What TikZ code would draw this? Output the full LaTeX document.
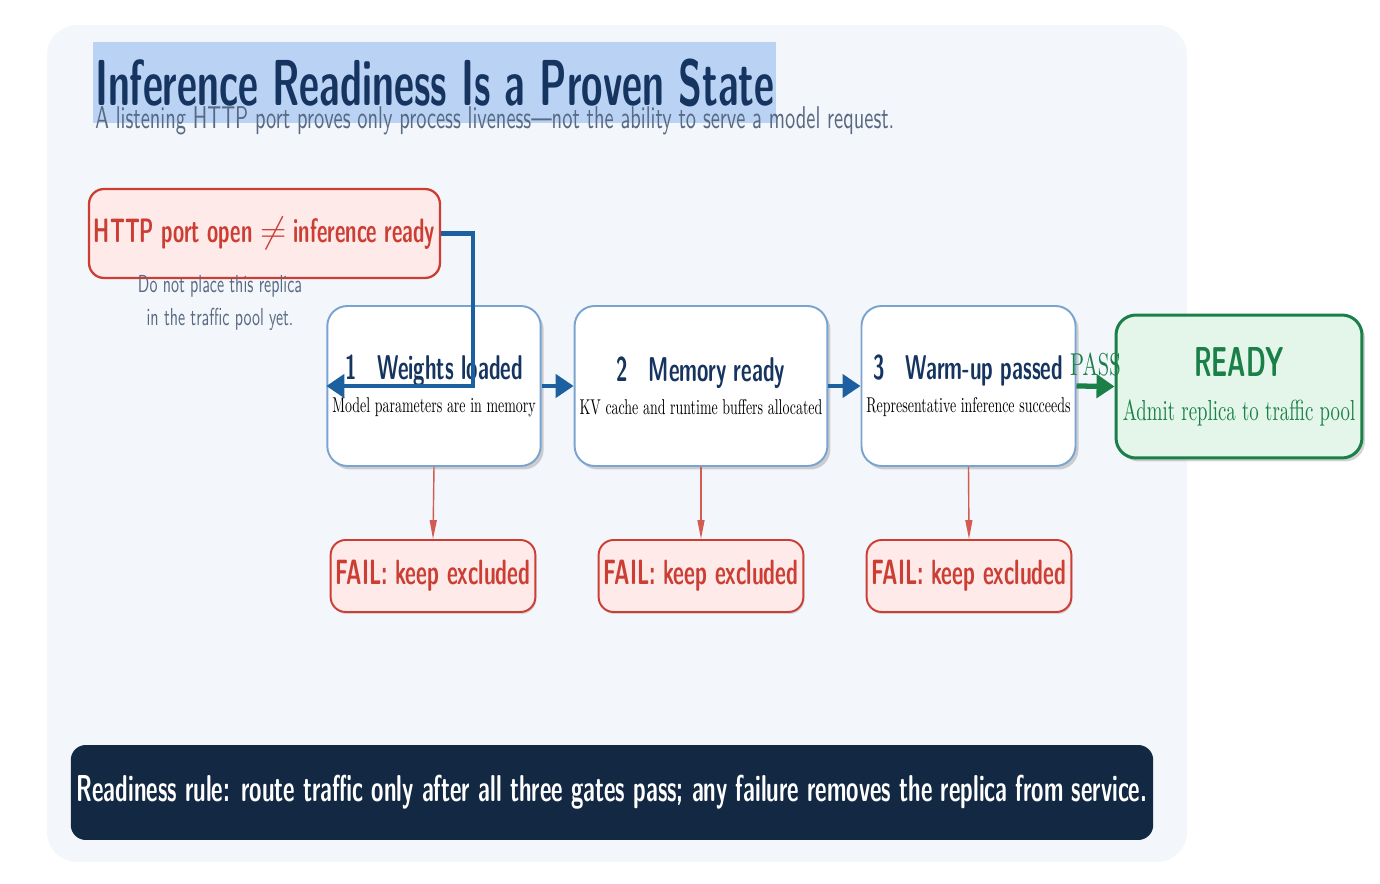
\documentclass[tikz,border=0pt]{standalone}
\usepackage{fontspec}
\setmainfont{lmroman10-regular}[Extension=.otf,BoldFont=lmroman10-bold,FakeStretch=0.65]
\setsansfont{lmsans10-regular}[Extension=.otf,BoldFont=lmsans10-bold,
  UprightFeatures={FakeStretch=0.65},BoldFeatures={FakeStretch=0.6}]
\usetikzlibrary{arrows.meta,shadows,positioning}

\definecolor{panelbg}{RGB}{243,246,251}
\definecolor{titlehl}{RGB}{186,211,245}
\definecolor{navy}{RGB}{22,52,96}
\definecolor{subgray}{RGB}{88,106,130}
\definecolor{failred}{RGB}{204,62,52}
\definecolor{failfill}{RGB}{253,234,233}
\definecolor{gateline}{RGB}{122,164,208}
\definecolor{flowblue}{RGB}{28,96,160}
\definecolor{passgreen}{RGB}{26,128,72}
\definecolor{passfill}{RGB}{228,246,234}
\definecolor{footbg}{RGB}{19,41,67}

\newcommand{\gatetitle}[2]{{\sffamily\bfseries\fontsize{19.6}{22}\selectfont\color{navy}#1\hspace{0.6em}#2}}

\tikzset{
  gate/.style={draw=gateline, line width=1.1pt, fill=white, rounded corners=0.4cm,
    minimum height=3.2cm, inner xsep=0.1cm, align=center,
    font=\rmfamily\fontsize{12.2}{16}\selectfont,
    drop shadow={shadow xshift=0.06cm, shadow yshift=-0.07cm, opacity=0.35}},
  failbox/.style={draw=failred, line width=1.1pt, fill=failfill, rounded corners=0.3cm,
    minimum height=1.44cm, inner xsep=0.1cm, text=failred,
    font=\sffamily\bfseries\fontsize{20}{22}\selectfont,
    drop shadow={shadow xshift=0.02cm, shadow yshift=-0.04cm, opacity=0.3}},
  flow/.style={draw=flowblue, line width=2.5pt, -{Triangle[length=0.36cm,width=0.46cm]}},
  failflow/.style={draw=failred!85!white, line width=0.8pt, -{Triangle[length=0.38cm,width=0.14cm]}},
}

\begin{document}
\begin{tikzpicture}[x=0.02cm, y=-0.02cm]
  \useasboundingbox (0,0) rectangle (1380,884);
  % panel
  \fill[panelbg, rounded corners=0.6cm] (47,25) rectangle (1187,862);

  % title and subtitle
  \node[anchor=west, fill=titlehl, inner xsep=1pt, inner ysep=0pt, minimum height=1.62cm,
    text=navy, font=\sffamily\bfseries\fontsize{37}{40}\selectfont] (title) at (93,82.5)
    {Inference Readiness Is a Proven State};
  \node[anchor=base west, inner sep=0pt, text=subgray, font=\sffamily\fontsize{17.9}{19}\selectfont]
    (subtitle) at (95,129)
    {A listening HTTP port proves only process liveness---not the ability to serve a model request.};

  % warning
  \node[draw=failred, line width=1.3pt, fill=failfill, rounded corners=0.3cm, text=failred,
    minimum width=7.02cm, minimum height=1.78cm, inner xsep=0.08cm,
    font=\sffamily\bfseries\fontsize{19.3}{22}\selectfont]
    (http) at (264.5,233.5) {HTTP port open $\neq$ inference ready};
  \node[text=subgray, align=center, font=\sffamily\fontsize{14}{19.3}\selectfont] (note) at (220,303)
    {Do not place this replica\\in the traffic pool yet.};

  % gates
  \node[gate, minimum width=4.24cm] (g1) at (434,386)
    {\gatetitle{1}{Weights loaded}\\[3pt]Model parameters are in memory};
  \node[gate, minimum width=5cm] (g2) at (701,386)
    {\gatetitle{2}{Memory ready}\\[3pt]KV cache and runtime buffers allocated};
  \node[gate, minimum width=4.26cm] (g3) at (968.5,386)
    {\gatetitle{3}{Warm-up passed}\\[3pt]Representative inference succeeds};

  % ready
  \node[draw=passgreen, line width=1.7pt, fill=passfill, rounded corners=0.4cm, align=center,
    minimum width=4.92cm, minimum height=2.86cm, text=passgreen,
    font=\rmfamily\fontsize{16.5}{20}\selectfont,
    drop shadow={shadow xshift=0.06cm, shadow yshift=-0.07cm, opacity=0.35}] (ready) at (1239,386.5)
    {{\sffamily\bfseries\fontsize{23.8}{26}\selectfont READY}\\[5pt]Admit replica to traffic pool};

  % fail boxes
  \node[failbox, minimum width=4.08cm] (f1) at (433,576) {FAIL: keep excluded};
  \node[failbox, minimum width=4.08cm] (f2) at (701,576) {FAIL: keep excluded};
  \node[failbox, minimum width=4.08cm] (f3) at (969,576) {FAIL: keep excluded};

  % footer
  \node[fill=footbg, rounded corners=0.3cm, minimum width=21.6cm, minimum height=1.9cm, text=white,
    font=\sffamily\bfseries\fontsize{21.3}{23}\selectfont] (rule) at (612,792.5)
    {Readiness rule: route traffic only after all three gates pass; any failure removes the replica from service.};

  % connectors
  \draw[flow] (http.east) -- ++(32,0) |- (g1.west);
  \draw[flow] (g1.east) -- (g2.west);
  \draw[flow] (g2.east) -- (g3.west);
  \draw[flow, draw=passgreen, line width=3pt] (g3.east) -- node[above=1pt, text=passgreen,
    font=\rmfamily\fontsize{18}{20}\selectfont] {PASS} (ready.west);
  \draw[failflow] (g1.south) -- (f1.north);
  \draw[failflow] (g2.south) -- (f2.north);
  \draw[failflow] (g3.south) -- (f3.north);
\end{tikzpicture}
\end{document}
